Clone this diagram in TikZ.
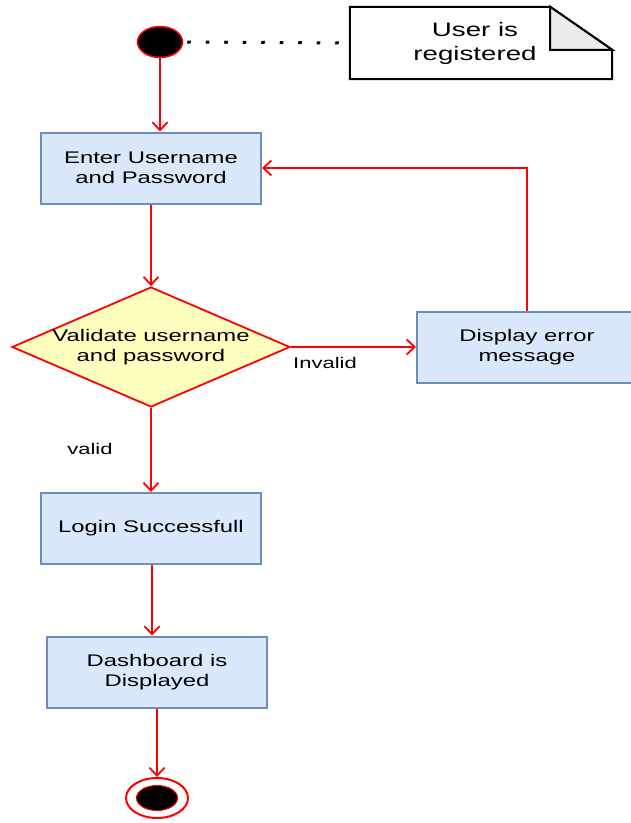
\documentclass[tikz,border=0pt]{standalone}
\usepackage{fontspec}
\setmainfont{Liberation Sans}[FakeStretch=1.42]
\usetikzlibrary{arrows.meta,shapes.geometric,calc}
\definecolor{boxfill}{HTML}{DAE8FC}
\definecolor{boxline}{HTML}{6C8EBF}
\definecolor{decfill}{HTML}{FFFFC0}
\definecolor{flow}{HTML}{FF0000}
\definecolor{foldfill}{HTML}{EBEBEB}
\begin{document}
\begin{tikzpicture}[x=1pt,y=-1pt,
  action/.style={draw=boxline, fill=boxfill, line width=2pt, minimum width=220pt,
    minimum height=71pt, align=center, inner sep=0pt,
    font=\fontsize{16.8}{19.5}\selectfont},
  decision/.style={diamond, draw=flow, fill=decfill, line width=1.8pt,
    minimum width=278pt, minimum height=120pt, inner sep=0pt},
  plaintext/.style={align=center, inner sep=0pt, font=\fontsize{16.8}{19.5}\selectfont},
  guard/.style={inner sep=0pt, font=\fontsize{15.5}{17}\selectfont},
  flowline/.style={draw=flow, line width=1.8pt,
    -{Straight Barb[length=8pt,width=15pt,line width=1.8pt]}},
  notelink/.style={draw=black, line width=3pt, dash pattern=on 3.5pt off 15pt},
  initial/.style={ellipse, fill=black, draw=flow, line width=1.5pt,
    minimum width=45pt, minimum height=31pt, inner sep=0pt},
  finalring/.style={ellipse, fill=white, draw=flow, line width=2pt,
    minimum width=62pt, minimum height=40pt, inner sep=0pt},
  finaldot/.style={ellipse, fill=black, draw=flow, line width=1pt,
    minimum width=41pt, minimum height=25pt, inner sep=0pt}
]
\useasboundingbox (0,0) rectangle (631,823);

% start and annotation
\node[initial] (start) at (160,42) {};
\node[minimum width=262pt, minimum height=72pt, inner sep=0pt] (note) at (481,43) {};
\draw[line width=2pt, fill=white]
  (note.north west) -- ($(note.north east)+(-62,0)$) -- ($(note.north east)+(0,43)$)
  -- (note.south east) -- (note.south west) -- cycle;
\draw[line width=2pt, fill=foldfill, line join=miter]
  ($(note.north east)+(-62,0)$) -- ($(note.north east)+(-62,43)$)
  -- ($(note.north east)+(0,43)$) -- cycle;
\node[align=center, inner sep=0pt, font=\fontsize{19.5}{24}\selectfont] (notetext) at (475,43)
  {User is\\registered};
\draw[notelink] ($(start.east)+(4,0)$) -- ($(note.west)+(-3,0)$);

% activities
\node[action] (enter) at (151,168) {Enter Username\\and Password};
\node[decision] (check) at (151,347) {};
\node[plaintext] (checktext) at (151,347) {Validate username\\and password};
\node[action] (error) at (527,347) {Display error\\message};
\node[action] (login) at (151,528.5) {Login Successfull};
\node[action] (dash) at (157,672) {Dashboard is\\Displayed};
\node[finalring] (final) at (157,798) {};
\node[finaldot] (finalcore) at (final) {};

% guards
\node[guard] (invalid) at (325,363) {Invalid};
\node[guard] (valid) at (90,449) {valid};

% control flow
\coordinate (loginout) at ($(login.south)+(1,0)$);
\draw[flowline] (start.south) -- (start.south |- enter.north);
\draw[flowline] (enter.south) -- (check.north);
\draw[flowline] (check.east) -- (error.west);
\draw[flowline] (error.north) -- (error.north |- enter.east) -- (enter.east);
\draw[flowline] (check.south) -- (login.north);
\draw[flowline] (loginout) -- (loginout |- dash.north);
\draw[flowline] (dash.south) -- (final.north);
\end{tikzpicture}
\end{document}
